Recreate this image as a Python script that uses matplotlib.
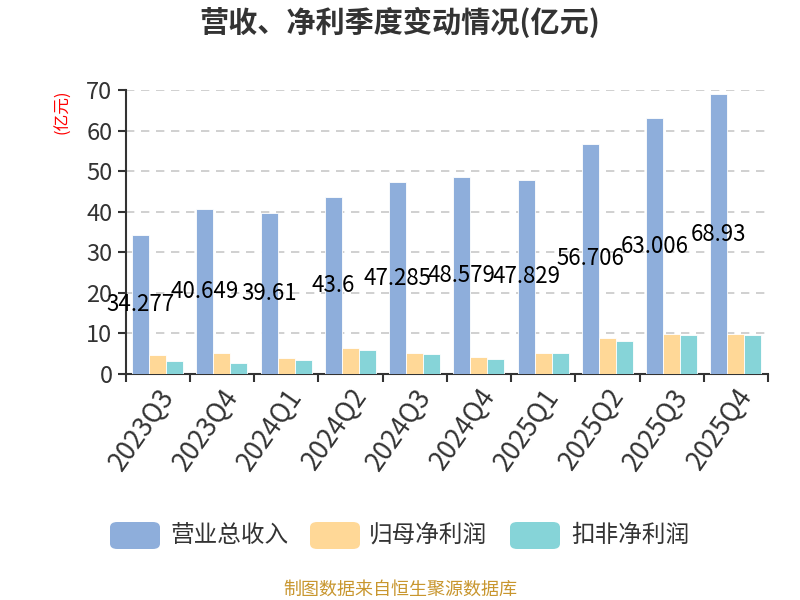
import matplotlib
matplotlib.use("Agg")
import matplotlib.pyplot as plt
import numpy as np
from matplotlib.patches import FancyBboxPatch

plt.rcParams['font.family'] = ['Noto Sans CJK SC', 'DejaVu Sans']

quarters = ["2023Q3", "2023Q4", "2024Q1", "2024Q2", "2024Q3",
            "2024Q4", "2025Q1", "2025Q2", "2025Q3", "2025Q4"]
revenue = [34.277, 40.649, 39.61, 43.6, 47.285, 48.579, 47.829, 56.706, 63.006, 68.93]
net_profit = [4.6, 5.1, 3.9, 6.3, 5.2, 4.1, 5.1, 8.9, 9.9, 9.8]
net_profit_ex = [3.2, 2.7, 3.5, 5.85, 4.9, 3.8, 5.1, 8.05, 9.5, 9.65]
series_names = ["营业总收入", "归母净利润", "扣非净利润"]
colors = ["#8EAEDB", "#FFD897", "#86D4D8"]

fig = plt.figure(figsize=(8, 6), dpi=100)
ax = fig.add_axes([0.157, 0.3767, 0.803, 0.4733])

x = np.arange(len(quarters))
w = 0.265
for i, vals in enumerate([revenue, net_profit, net_profit_ex]):
    ax.bar(x + (i - 1) * w, vals, width=w, color=colors[i],
           edgecolor="white", linewidth=0.6, label=series_names[i], zorder=3)

# revenue labels sit at the middle of the blue bars
for xi, v in zip(x, revenue):
    ax.text(xi - w, v / 2, f"{v:g}", ha="center", va="center",
            fontsize=16, color="black", zorder=5)

ax.set_xlim(-0.5, len(quarters) - 0.5)
ax.set_ylim(0, 70)
ax.set_yticks(range(0, 71, 10))
ax.set_xticks(np.arange(-0.5, len(quarters), 1.0), minor=False)
ax.set_xticklabels([])
ax.set_xticks(x, minor=True)
ax.set_xticklabels(quarters, minor=True, rotation=55, ha="right",
                   rotation_mode="anchor", fontsize=19, color="#333333")
ax.tick_params(axis="x", which="minor", length=0, pad=7)
ax.tick_params(axis="x", which="major", length=6, width=1.5, color="#333333")
ax.tick_params(axis="y", length=6, width=1.5, color="#333333",
               labelsize=17, labelcolor="#333333")

for yv in range(10, 71, 10):
    ax.axhline(yv, color="#c8c8c8", linestyle=(0, (5, 4)), linewidth=1.2, zorder=1)

for s in ["top", "right"]:
    ax.spines[s].set_visible(False)
for s in ["left", "bottom"]:
    ax.spines[s].set_color("#333333")
    ax.spines[s].set_linewidth(1.5)

fig.text(0.079, 0.813, "(亿元)", rotation=90, color="red", fontsize=12,
         ha="center", va="center")

fig.text(0.5, 0.962, "营收、净利季度变动情况(亿元)", ha="center", va="center",
         fontsize=21, fontweight="bold", color="#333333")

# legend drawn by hand with rounded swatches
legend_items = [(110, 171, series_names[0]), (310, 369, series_names[1]),
                (510, 571, series_names[2])]
for (bx, tx, name), c in zip(legend_items, colors):
    box = FancyBboxPatch((bx / 800, (600 - 549) / 600), 50 / 800, 27 / 600,
                         boxstyle="round,pad=0,rounding_size=0.009",
                         transform=fig.transFigure, facecolor=c, edgecolor="none")
    fig.patches.append(box)
    fig.text(tx / 800, (600 - 535.5) / 600, name, ha="left", va="center",
             fontsize=17, color="#333333")

fig.text(0.5, (600 - 590) / 600, "制图数据来自恒生聚源数据库", ha="center", va="center",
         fontsize=13, color="#C8962E")

fig.savefig("out.png", dpi=100)
